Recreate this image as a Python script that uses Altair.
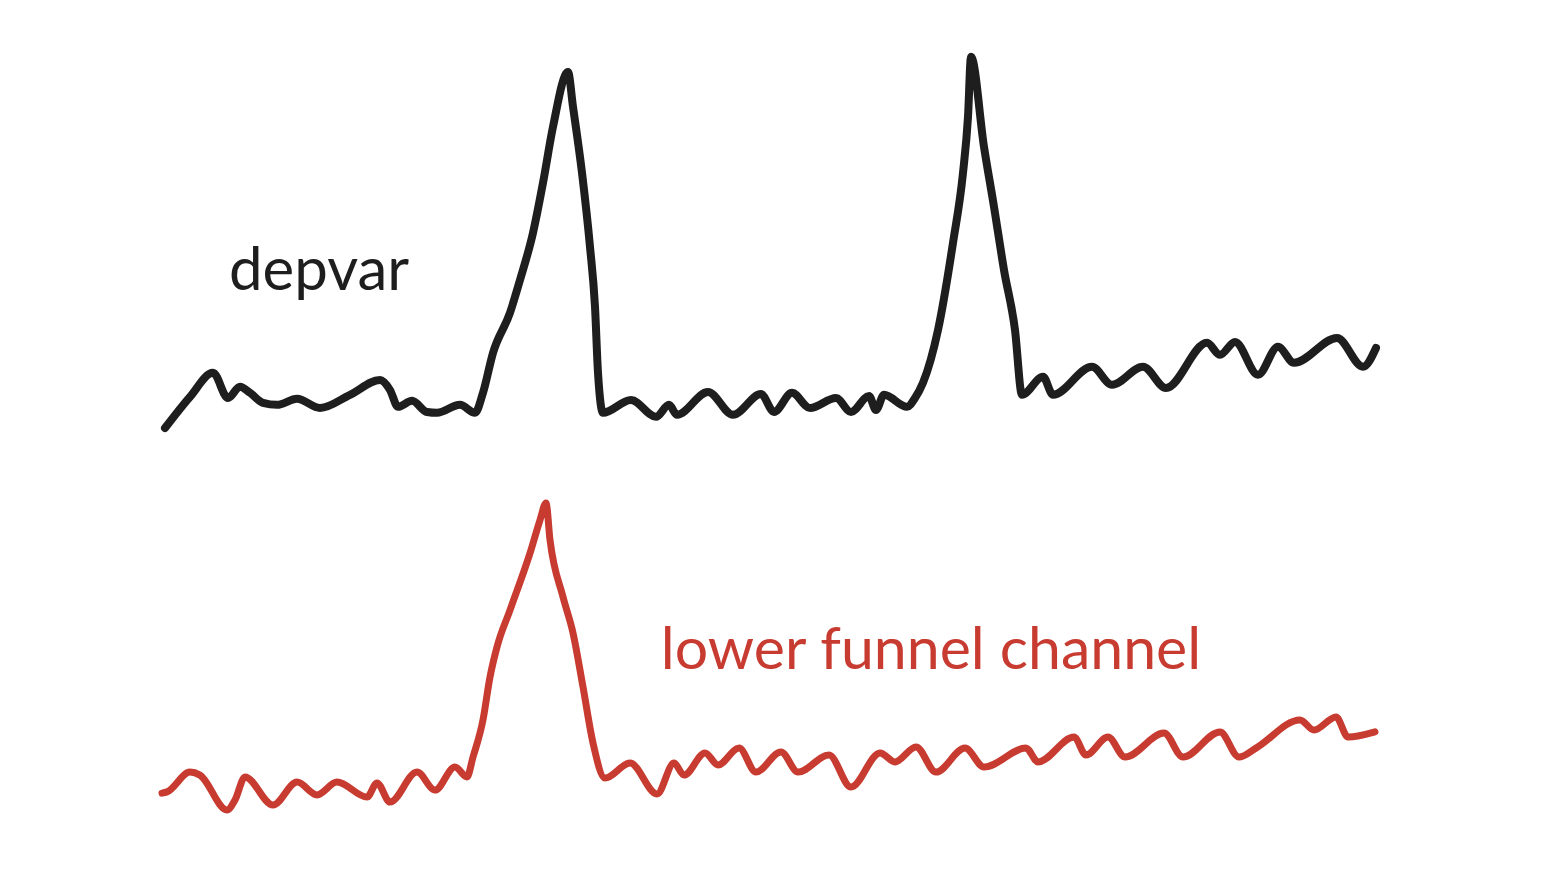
import altair as alt
import pandas as pd

# ---- data (time index, value) ----
depvar_t = [0.5, 3.0, 5.3, 6.8, 8.0, 9.0, 10.3, 11.7, 13.7, 16.0, 19.0, 22.0, 23.0, 23.8,
            25.2, 26.7, 27.7, 30.0, 31.5, 32.3, 33.3, 35.0, 36.0, 37.3, 38.3, 39.3, 40.8,
            41.3, 42.2, 43.0, 43.5, 43.8, 44.3, 47.1, 49.6, 50.9, 51.7, 54.8, 57.3, 60.1,
            61.4, 63.2, 65.0, 67.6, 69.1, 70.9, 71.6, 72.4, 74.7, 75.5, 76.3, 77.8, 79.3,
            80.3, 80.8, 81.1, 82.4, 83.4, 84.4, 85.5, 86.2, 88.3, 89.3, 93.2, 95.2, 98.3,
            100.6, 104.7, 106.0, 107.5, 109.8, 111.8, 113.4, 117.7, 120.3, 121.6]
depvar_v = [3.0, 10.8, 16.8, 10.5, 13.3, 11.8, 9.3, 8.8, 10.3, 8.0, 11.3, 15.0, 12.5, 8.3,
            9.8, 7.0, 6.8, 8.8, 6.8, 11.8, 21.8, 31.8, 40.0, 51.8, 64.3, 78.3, 92.0,
            83.3, 66.8, 48.3, 33.3, 16.8, 6.8, 10.0, 5.8, 8.8, 6.3, 12.0, 6.3, 11.5,
            7.0, 11.8, 8.0, 10.5, 7.0, 11.0, 7.5, 11.3, 8.3, 10.5, 14.3, 27.5, 49.3,
            66.8, 80.8, 95.8, 73.3, 58.3, 42.5, 27.5, 11.3, 15.8, 11.3, 18.3, 13.8, 18.3,
            13.0, 24.3, 21.3, 24.5, 16.3, 23.3, 19.3, 25.5, 18.3, 23.0]

lfc_t = [0.2, 0.7, 3.0, 4.0, 6.7, 7.5, 8.5, 11.3, 13.7, 15.7, 17.7, 20.7, 21.7, 23.0, 25.7,
         27.5, 29.5, 30.7, 31.3, 32.3, 33.0, 33.7, 35.0, 37.0, 38.0, 38.6, 39.0, 40.3,
         41.3, 42.3, 43.3, 44.5, 47.0, 49.7, 51.4, 52.4, 54.5, 55.8, 57.9, 59.6, 62.1,
         63.8, 66.9, 69.1, 72.0, 73.5, 75.6, 77.6, 80.5, 82.4, 86.6, 87.8, 91.4, 92.6,
         94.8, 96.5, 100.4, 102.3, 106.0, 107.9, 109.6, 114.0, 115.4, 117.6, 118.8, 121.5]
lfc_v = [7.3, 7.7, 14.3, 13.3, 1.7, 5.0, 12.7, 3.3, 11.0, 6.7, 11.0, 6.0, 10.7, 4.3, 14.3,
         8.3, 16.0, 12.7, 19.3, 31.7, 46.0, 56.0, 68.3, 87.3, 98.3, 104.0, 91.7, 72.7,
         60.7, 42.7, 24.0, 12.3, 17.3, 7.0, 17.3, 13.3, 20.7, 16.7, 22.3, 14.3, 21.0,
         14.3, 20.0, 9.3, 20.7, 17.7, 22.7, 14.3, 22.3, 16.0, 22.3, 17.7, 26.0, 20.0,
         26.0, 19.3, 27.3, 19.3, 27.7, 19.3, 22.3, 31.7, 28.3, 32.7, 26.0, 27.7]

series_labels = ["depvar", "lower funnel channel"]
black = "#1e1e1e"
red = "#c83b31"

df_b = pd.DataFrame({"t": depvar_t, "v": depvar_v})
df_r = pd.DataFrame({"t": lfc_t, "v": lfc_v})

W, H = 1536, 862
xscale = alt.Scale(domain=[-15.2, 138.4], nice=False, zero=False)

line_b = alt.Chart(df_b).mark_line(
    color=black, strokeWidth=8, strokeCap="round", strokeJoin="round", interpolate="monotone"
).encode(
    x=alt.X("t:Q", scale=xscale, axis=None),
    y=alt.Y("v:Q", scale=alt.Scale(domain=[-107.5, 108], nice=False, zero=False), axis=None),
)

line_r = alt.Chart(df_r).mark_line(
    color=red, strokeWidth=7, strokeCap="round", strokeJoin="round", interpolate="monotone"
).encode(
    x=alt.X("t:Q", scale=xscale, axis=None),
    y=alt.Y("v:Q", scale=alt.Scale(domain=[-18.33, 269], nice=False, zero=False), axis=None),
)

font = "Comic Sans MS, Lato, sans-serif"

label_b = alt.Chart(pd.DataFrame({"label": [series_labels[0]]})).mark_text(
    color=black, fontSize=60, font=font, align="center", baseline="alphabetic"
).encode(text="label:N", x=alt.value(311), y=alt.value(282))

label_r = alt.Chart(pd.DataFrame({"label": [series_labels[1]]})).mark_text(
    color=red, fontSize=59, font=font, align="center", baseline="alphabetic"
).encode(text="label:N", x=alt.value(923), y=alt.value(661))

chart = alt.layer(line_b, line_r, label_b, label_r).resolve_scale(y="independent").properties(
    width=W, height=H, padding=0, autosize=alt.AutoSizeParams(type="none")
).configure_view(strokeWidth=0, stroke=None)

chart.save("out.html", embed_options={"renderer": "svg", "actions": False})
